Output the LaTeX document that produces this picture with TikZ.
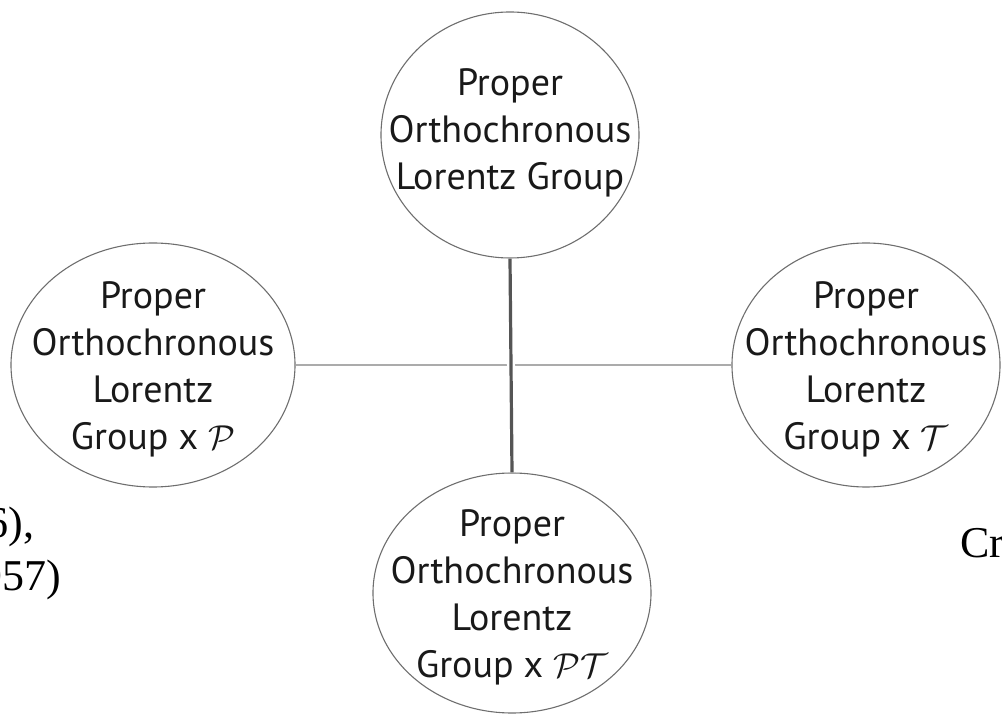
\documentclass[tikz,border=0pt]{standalone}
\usepackage{fontspec}
\setmainfont{PT Sans}
\newfontfamily\refserif{Liberation Serif}
\usetikzlibrary{shapes.geometric}
\definecolor{rimgray}{HTML}{6E6E6E}
\definecolor{spokegray}{HTML}{555555}
\definecolor{armgray}{HTML}{ABABAB}
\begin{document}
\begin{tikzpicture}[x=0.5pt,y=-0.5pt,
    grp/.style={draw=rimgray, line width=0.55pt, ellipse, inner sep=0pt},
    grptext/.style={align=center, font=\fontsize{19}{23.5}\selectfont, text=black!90},
    cut/.style={font=\refserif\fontsize{22}{26}\selectfont, inner sep=0pt}]
    \useasboundingbox (0,0) rectangle (1002,716);
    % the four groups
    \node[grp, minimum width=129pt, minimum height=123pt,
          label={[grptext, yshift=1pt]center:Proper\\Orthochronous\\Lorentz Group}] (top) at (510,135) {};
    \node[grp, minimum width=142pt, minimum height=122pt,
          label={[grptext, yshift=-2pt]center:Proper\\Orthochronous\\Lorentz\\Group x $\mathcal{P}$}] (left) at (153,365) {};
    \node[grp, minimum width=134pt, minimum height=122pt,
          label={[grptext, yshift=-2pt]center:Proper\\Orthochronous\\Lorentz\\Group x $\mathcal{T}$}] (right) at (866,365) {};
    \node[grp, minimum width=139pt, minimum height=120pt,
          label={[grptext, yshift=-2pt]center:Proper\\Orthochronous\\Lorentz\\Group x $\mathcal{PT}$}] (bottom) at (512,593) {};
    % connectors
    \draw[armgray, line width=1pt] (left.east) -- (right.west);
    \draw[spokegray, line width=1.6pt, preaction={draw=white, line width=4pt}] (top.south) -- (bottom.north);
    % text cut off at the edges
    \node[cut, anchor=base east] (citeA) at (35,538) {6),};
    \node[cut, anchor=base east] (citeB) at (62,590) {957)};
    \node[cut, anchor=base west] (credit) at (960,558) {Cr};
\end{tikzpicture}
\end{document}
